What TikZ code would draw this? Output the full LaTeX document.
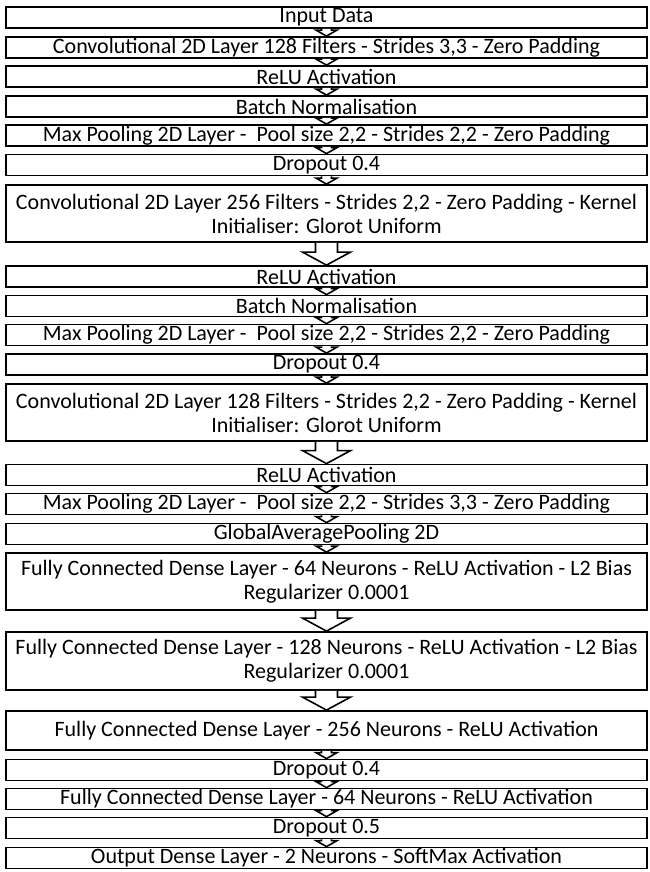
\documentclass[tikz,border=0pt]{standalone}
\usepackage{fontspec}
\setmainfont{Carlito}
\usetikzlibrary{calc}

\tikzset{
  layer/.style={draw=black, line width=1.8pt, fill=white, rectangle,
    minimum width=641pt, inner sep=0pt, align=center,
    font=\fontsize{22}{24}\selectfont},
  blockarrow/.style={draw=black, line width=1.6pt, fill=white, line join=miter},
}

% hollow block arrow from the bottom of #1 to the top of #2
% #3 shaft width, #4 head width, #5 head length
\newcommand{\flowarrow}[5]{%
  \draw[blockarrow] let \p1=(#1.south), \p2=(#2.north) in
    (\x1-#3/2,\y1) -- (\x1-#3/2,\y2+#5) -- (\x1-#4/2,\y2+#5) -- (\x1,\y2)
    -- (\x1+#4/2,\y2+#5) -- (\x1+#3/2,\y2+#5) -- (\x1+#3/2,\y1);}
\newcommand{\smallarrow}[2]{\flowarrow{#1}{#2}{10pt}{21pt}{6pt}}
\newcommand{\bigarrow}[2]{\flowarrow{#1}{#2}{22pt}{48pt}{13pt}}

\begin{document}
\begin{tikzpicture}[x=1pt,y=-1pt]
\useasboundingbox (0,0) rectangle (649,872);

\node[layer, minimum height=21pt] (n1) at (326.5,17.5) {Input Data};
\node[layer, minimum height=21pt] (n2) at (326.5,47.5) {Convolutional 2D Layer 128 Filters - Strides 3,3 - Zero Padding};
\node[layer, minimum height=21pt] (n3) at (326.5,76.5) {ReLU Activation};
\node[layer, minimum height=21pt] (n4) at (326.5,106.5) {Batch Normalisation};
\node[layer, minimum height=21pt] (n5) at (326.5,135.5) {Max Pooling 2D Layer -\ \ Pool size 2,2 - Strides 2,2 - Zero Padding};
\node[layer, minimum height=21pt] (n6) at (326.5,165) {Dropout 0.4};
\node[layer, minimum height=57pt] (n7) at (326.5,213.5) {Convolutional 2D Layer 256 Filters - Strides 2,2 - Zero Padding - Kernel\\Initialiser: Glorot Uniform};
\node[layer, minimum height=21pt] (n8) at (326.5,276.5) {ReLU Activation};
\node[layer, minimum height=21pt] (n9) at (326.5,306) {Batch Normalisation};
\node[layer, minimum height=21pt] (n10) at (326.5,335) {Max Pooling 2D Layer -\ \ Pool size 2,2 - Strides 2,2 - Zero Padding};
\node[layer, minimum height=21pt] (n11) at (326.5,364.5) {Dropout 0.4};
\node[layer, minimum height=57pt] (n12) at (326.5,412.5) {Convolutional 2D Layer 128 Filters - Strides 2,2 - Zero Padding - Kernel\\Initialiser: Glorot Uniform};
\node[layer, minimum height=21pt] (n13) at (326.5,475) {ReLU Activation};
\node[layer, minimum height=21pt] (n14) at (326.5,504) {Max Pooling 2D Layer -\ \ Pool size 2,2 - Strides 3,3 - Zero Padding};
\node[layer, minimum height=21pt] (n15) at (326.5,534) {GlobalAveragePooling 2D};
\node[layer, minimum height=57pt] (n16) at (326.5,581.5) {Fully Connected Dense Layer - 64 Neurons - ReLU Activation - L2 Bias\\Regularizer 0.0001};
\node[layer, minimum height=58pt] (n17) at (326.5,661) {Fully Connected Dense Layer - 128 Neurons - ReLU Activation - L2 Bias\\Regularizer 0.0001};
\node[layer, minimum height=39pt] (n18) at (326.5,730.5) {Fully Connected Dense Layer - 256 Neurons - ReLU Activation};
\node[layer, minimum height=21pt] (n19) at (326.5,770) {Dropout 0.4};
\node[layer, minimum height=21pt] (n20) at (326.5,799) {Fully Connected Dense Layer - 64 Neurons - ReLU Activation};
\node[layer, minimum height=21pt] (n21) at (326.5,828) {Dropout 0.5};
\node[layer, minimum height=21pt] (n22) at (326.5,858) {Output Dense Layer - 2 Neurons - SoftMax Activation};

\smallarrow{n1}{n2}
\smallarrow{n2}{n3}
\smallarrow{n3}{n4}
\smallarrow{n4}{n5}
\smallarrow{n5}{n6}
\smallarrow{n6}{n7}
\bigarrow{n7}{n8}
\smallarrow{n8}{n9}
\smallarrow{n9}{n10}
\smallarrow{n10}{n11}
\smallarrow{n11}{n12}
\bigarrow{n12}{n13}
\smallarrow{n13}{n14}
\smallarrow{n14}{n15}
\smallarrow{n15}{n16}
\bigarrow{n16}{n17}
\bigarrow{n17}{n18}
\smallarrow{n18}{n19}
\smallarrow{n19}{n20}
\smallarrow{n20}{n21}
\smallarrow{n21}{n22}
\end{tikzpicture}
\end{document}
